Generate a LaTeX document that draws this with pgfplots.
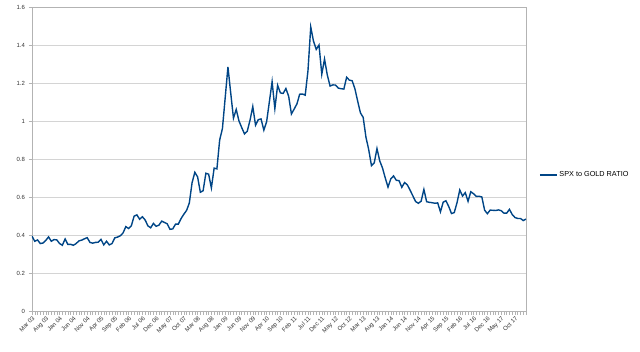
\documentclass[border=0pt]{standalone}
\usepackage{fontspec}
\setmainfont{Liberation Sans}
\usepackage{pgfplots}
\pgfplotsset{compat=1.18}
\definecolor{lineblue}{HTML}{004586}
\definecolor{gridgray}{HTML}{D4D4D4}
\definecolor{axisgray}{HTML}{B3B3B3}
\definecolor{labelgray}{HTML}{333333}
\begin{document}
\begin{tikzpicture}
\path[use as bounding box] (-32bp,-41bp) rectangle (608bp,311bp);
\begin{axis}[
  at={(0,0)}, anchor=south west,
  scale only axis, width=494bp, height=304bp,
  xmin=0, xmax=179, ymin=0, ymax=1.6,
  ytick={0,0.2,0.4,0.6,0.8,1,1.2,1.4,1.6},
  yticklabels={0,0.2,0.4,0.6,0.8,1,1.2,1.4,1.6},
  ymajorgrids,
  major grid style={gridgray, line width=0.7bp},
  axis line style={axisgray, line width=0.7bp},
  xtick={0,5,...,175},
  xticklabels={Mar 03,Aug 03,Jan 04,Jun 04,Nov 04,Apr 05,Sep 05,Feb 06,Jul 06,Dec 06,May 07,Oct 07,Mar 08,Aug 08,Jan 09,Jun 09,Nov 09,Apr 10,Sep 10,Feb 11,Jul 11,Dec 11,May 12,Oct 12,Mar 13,Aug 13,Jan 14,Jun 14,Nov 14,Apr 15,Sep 15,Feb 16,Jul 16,Dec 16,May 17,Oct 17},
  minor xtick={0,...,179},
  tick pos=left,
  tick align=outside,
  major tick length=3.5bp, minor tick length=3.5bp,
  tick style={axisgray, line width=0.5bp},
  xticklabel style={rotate=45, anchor=north east, font=\fontsize{6}{7}\selectfont, text=labelgray, inner sep=1bp},
  yticklabel style={font=\fontsize{6}{7}\selectfont, text=labelgray},
  /pgf/number format/assume math mode=true,
  legend style={at={(1.026,0.447)}, anchor=west, draw=none, fill=none, font=\fontsize{7.3}{9}\selectfont, inner sep=0pt},
  legend cell align=left,
]
\addplot[lineblue, line width=1.4bp] table[x expr=\coordindex, y index=0, header=false, row sep=\\] {
0.394\\0.367\\0.374\\0.355\\0.358\\0.372\\0.390\\0.367\\0.376\\0.374\\
0.355\\0.346\\0.379\\0.350\\0.351\\0.346\\0.355\\0.369\\0.373\\0.380\\0.386\\0.361\\
0.357\\0.361\\0.362\\0.377\\0.348\\0.367\\0.348\\0.355\\0.385\\0.389\\0.396\\0.411\\
0.444\\0.434\\0.449\\0.499\\0.506\\0.483\\0.496\\0.479\\0.448\\0.438\\0.461\\0.446\\
0.452\\0.473\\0.466\\0.459\\0.430\\0.432\\0.457\\0.457\\0.486\\0.509\\0.529\\0.568\\
0.675\\0.730\\0.706\\0.625\\0.633\\0.725\\0.720\\0.648\\0.752\\0.748\\0.900\\0.960\\
1.122\\1.285\\1.148\\1.015\\1.061\\1.000\\0.965\\0.932\\0.946\\1.004\\1.076\\0.978\\
1.007\\1.011\\0.952\\0.995\\1.100\\1.207\\1.065\\1.188\\1.148\\1.145\\1.171\\1.130\\
1.037\\1.063\\1.090\\1.141\\1.142\\1.136\\1.265\\1.495\\1.420\\1.377\\1.400\\1.246\\
1.326\\1.242\\1.184\\1.190\\1.189\\1.173\\1.170\\1.168\\1.230\\1.215\\1.212\\1.170\\
1.105\\1.043\\1.019\\0.915\\0.850\\0.765\\0.779\\0.855\\0.790\\0.753\\0.700\\0.652\\
0.695\\0.711\\0.688\\0.686\\0.651\\0.676\\0.664\\0.636\\0.606\\0.576\\0.567\\0.578\\
0.640\\0.575\\0.572\\0.570\\0.567\\0.569\\0.522\\0.573\\0.580\\0.550\\0.513\\0.518\\
0.570\\0.637\\0.605\\0.623\\0.577\\0.628\\0.617\\0.603\\0.604\\0.600\\0.531\\0.512\\
0.531\\0.530\\0.529\\0.532\\0.528\\0.515\\0.515\\0.535\\0.508\\0.492\\0.487\\0.487\\
0.476\\0.484\\
};
\addlegendentry{SPX to GOLD RATIO}
\end{axis}
\end{tikzpicture}
\end{document}
